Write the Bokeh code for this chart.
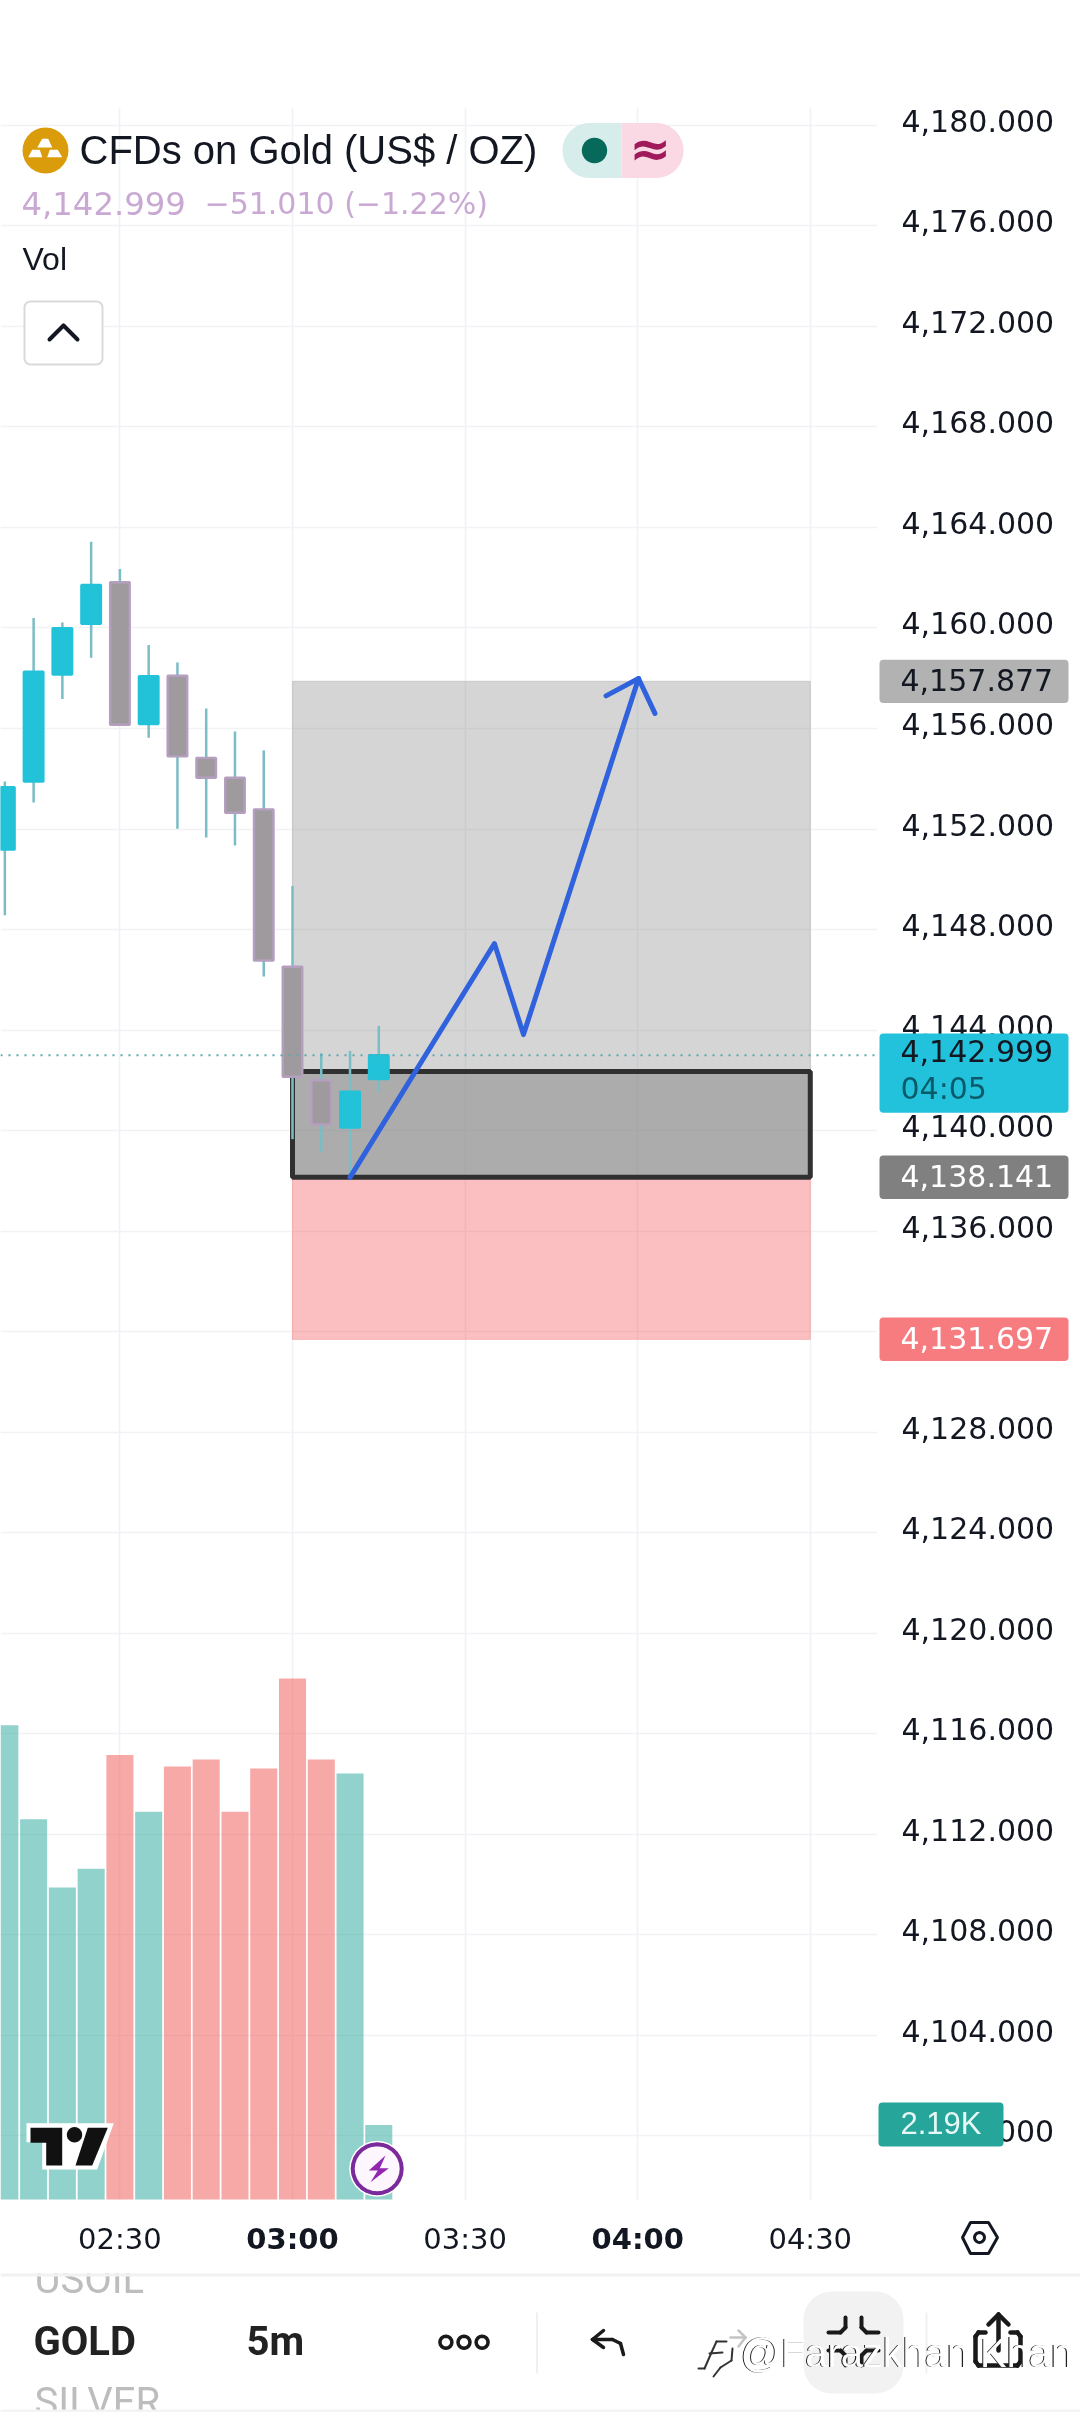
import numpy as np
from bokeh.plotting import figure
from bokeh.embed import file_html
from bokeh.resources import INLINE
from bokeh.models import (ColumnDataSource, Range1d, FixedTicker, NumeralTickFormatter,
                          Label, BoxAnnotation, PolyAnnotation, Arrow)

# ---- data ----
times  = [130, 135, 140, 145, 150, 155, 160, 165, 170, 175, 180, 185, 190, 195]
opens  = [4151.18, 4153.89, 4158.15, 4160.17, 4161.82, 4156.18, 4158.10, 4154.83, 4154.04, 4152.78, 4146.52, 4142.00, 4140.12, 4142.05]
closes = [4153.66, 4158.26, 4159.99, 4161.71, 4156.15, 4158.08, 4154.89, 4154.04, 4152.65, 4146.77, 4142.14, 4140.24, 4141.55, 4142.999]
highs  = [4153.89, 4160.40, 4160.22, 4163.43, 4162.35, 4159.32, 4158.63, 4156.80, 4155.88, 4155.13, 4149.73, 4143.08, 4143.17, 4144.16]
lows   = [4148.57, 4153.06, 4157.17, 4158.82, 4156.15, 4155.63, 4152.01, 4151.66, 4151.34, 4146.13, 4139.66, 4139.16, 4138.20, 4141.52]
volume_up = [True, True, True, True, False, True, False, False, False, False, False, False, True, True]
volumes = [13926, 11163, 9164, 9714, 13050, 11387, 12712, 12915, 11387, 12656, 15296, 12915, 12510, 2190]

price_ticks = list(range(4100, 4181, 4))
time_ticks = {150: "02:30", 210: "03:30", 270: "04:30"}
time_ticks_bold = {180: "03:00", 240: "04:00"}

last_price = 4142.999
target_price = 4157.877
entry_price = 4138.141
stop_price = 4131.697
box_top_price = 4142.35
box_start, box_end = 180, 270

path_t = [190.0, 215.1, 220.15, 240.15]
path_p = [4138.14, 4147.44, 4143.82, 4157.99]
head_t = [234.5, 240.15, 243.0]
head_p = [4157.3, 4157.99, 4156.6]

# ---- styling constants ----
W, H = 1080, 2412
F_L, F_R, F_T, F_B = 0, 877, 107, 2200
UP, DOWN, DOWN_EDGE, WICK = "#22C2D9", "#9E9A9E", "#B59FBF", "#7ABDC4"
NUM = "DejaVu Sans"
INK = "#131722"

x0 = 180 + (F_L - 292) / 5.753
x1 = 180 + (F_R - 292) / 5.753
y_top = 4156 + (728 - F_T) / 25.13
y_bot = 4156 - (F_B - 728) / 25.13


def sx(t):
    return F_L + (t - x0) / (x1 - x0) * (F_R - F_L)


def sy(v):
    return F_T + (y_top - v) / (y_top - y_bot) * (F_B - F_T)


p = figure(width=W, height=H, output_backend="svg", toolbar_location=None,
           x_range=Range1d(x0, x1), y_range=Range1d(y_bot, y_top),
           min_border_left=F_L, min_border_right=W - F_R, min_border_top=F_T, min_border_bottom=H - F_B,
           x_axis_location="below", y_axis_location="right",
           background_fill_color="white", border_fill_color="white", outline_line_color=None)
p.styles = {"position": "fixed", "left": "0px", "top": "0px"}

LABEL_SHIFT = 4.5 / 25.13
p.extra_y_ranges["ylabels"] = Range1d(y_bot - LABEL_SHIFT, y_top - LABEL_SHIFT)
p.extra_y_ranges["vol"] = Range1d(-29, 61420)

xa = p.xaxis[0]
xa.ticker = FixedTicker(ticks=list(time_ticks))
xa.major_label_overrides = time_ticks
xa.major_label_text_font = NUM
xa.major_label_text_font_size = "29px"
xa.major_label_text_color = INK
xa.major_label_standoff = 15
xa.major_tick_line_color = None
xa.minor_tick_line_color = None
xa.axis_line_color = None

ya = p.yaxis[0]
ya.y_range_name = "ylabels"
ya.ticker = FixedTicker(ticks=price_ticks)
ya.formatter = NumeralTickFormatter(format="0,0.000")
ya.major_label_overrides = {4132: ""}  # fully hidden behind the stop tag in the reference
ya.major_label_text_font = NUM
ya.major_label_text_font_size = "30px"
ya.major_label_text_color = INK
ya.major_label_standoff = 18
ya.major_tick_line_color = None
ya.minor_tick_line_color = None
ya.axis_line_color = None

p.xgrid[0].ticker = FixedTicker(ticks=sorted(list(time_ticks) + list(time_ticks_bold)))
p.ygrid[0].ticker = FixedTicker(ticks=price_ticks)
for g in (p.xgrid[0], p.ygrid[0]):
    g.grid_line_color = "#F1F2F5"
    g.grid_line_width = 1.7

src = ColumnDataSource(dict(
    t=times, o=opens, c=closes, h=highs, l=lows, v=volumes,
    top=[max(a, b) for a, b in zip(opens, closes)],
    bot=[min(a, b) for a, b in zip(opens, closes)],
    vc=["#26A69A" if u else "#EF5350" for u in volume_up],
    fc=[UP if u else DOWN for u in volume_up],
    lc=[UP if u else DOWN_EDGE for u in volume_up],
))
p.vbar(x="t", top="v", bottom=0, width=4.7, fill_color="vc", fill_alpha=0.5, line_color=None,
       y_range_name="vol", source=src)

# position tool
p.quad(left=[box_start], right=[box_end], top=[target_price], bottom=[box_top_price],
       fill_color="#808080", fill_alpha=0.33, line_color="#C8C8C8", line_width=1)
p.quad(left=[box_start], right=[box_end], top=[entry_price], bottom=[stop_price],
       fill_color="#F23C42", fill_alpha=0.33, line_color="#F5B0B2", line_width=1)
p.quad(left=[box_start], right=[box_end], top=[box_top_price], bottom=[entry_price],
       fill_color="#808080", fill_alpha=0.65, line_color="#303030", line_width=5)

# candles
p.segment(x0="t", x1="t", y0="l", y1="h", line_color=WICK, line_width=2.5, source=src)
p.vbar(x="t", top="top", bottom="bot", width=3.4, fill_color="fc", line_color="lc", line_width=2.4, source=src)

p.line([x0, x1], [last_price, last_price], line_color="#58A8B6", line_width=2, line_dash="2 6")

p.line(path_t, path_p, line_color="#2F62DC", line_width=5, line_join="round", line_cap="round")
p.line(head_t, head_p, line_color="#2F62DC", line_width=5, line_join="round", line_cap="round")

# ---- transparent full-page layer for the tags and app chrome around the chart ----
pc = figure(width=W, height=H, output_backend="svg", toolbar_location=None,
            x_range=Range1d(0, W), y_range=Range1d(H, 0), x_axis_type=None, y_axis_type=None,
            min_border=0, background_fill_color=None, border_fill_color=None, outline_line_color=None)
pc.grid.visible = False
pc.styles = {"position": "fixed", "left": "0px", "top": "0px"}


def lab(text, x, y, size, color, font="Liberation Sans", style="normal", align="left", base="middle"):
    pc.add_layout(Label(x=x, y=y, text=text, text_font=font,
                        text_font_size=f"{size}px", text_color=color, text_font_style=style,
                        text_align=align, text_baseline=base))


def box(l, r, t, b, color, radius=0, line=None, line_width=1):
    pc.add_layout(BoxAnnotation(left=l, right=r, top=t, bottom=b, fill_color=color, fill_alpha=1,
                                line_color=line, line_alpha=1 if line else 0, line_width=line_width,
                                border_radius=radius))


def poly(xs, ys, fill=None, line=None, lw=1):
    pc.add_layout(PolyAnnotation(xs=list(xs), ys=list(ys),
                                 fill_color=fill or "white", fill_alpha=1 if fill else 0,
                                 line_color=line or "white", line_alpha=1 if line else 0, line_width=lw))


def ring(cx, cy, r, fill=None, line=None, lw=1, n=28):
    a = np.linspace(0, 2 * np.pi, n, endpoint=False)
    poly((cx + r * np.cos(a)).tolist(), (cy + r * np.sin(a)).tolist(), fill, line, lw)


def strokes(pts, color=INK, lw=4):
    for (a, b), (c, d) in zip(pts[:-1], pts[1:]):
        pc.add_layout(Arrow(end=None, x_start=a, y_start=b, x_end=c, y_end=d,
                            line_color=color, line_width=lw, line_cap="round"))


# title block
ring(45, 150, 23, fill="#DB9C0C")
poly([41.7, 47.7, 51.7, 36.7], [138.3, 138.3, 147, 147], fill="white")
poly([31.7, 39.3, 41.7, 27.7], [149.3, 149.3, 156.7, 156.7], fill="white")
poly([49.3, 57.3, 61.7, 46.7], [149.3, 149.3, 156.7, 156.7], fill="white")
lab("CFDs on Gold (US$ / OZ)", 79, 149, 40, "#131722")
box(562, 621, 122.5, 177.5, "#D6EDEB", radius=(27, 0, 0, 27))
box(621, 683, 122.5, 177.5, "#FBD9E4", radius=(0, 27, 27, 0))
ring(594, 150, 12.7, fill="#06695A")
lab("≈", 650, 148, 50, "#A0195B", font="DejaVu Sans", style="bold", align="center")
lab("4,142.999", 21, 203, 32.3, "#C9A9D3", font=NUM)
lab("−51.010 (−1.22%)", 204, 203, 30, "#C9A9D3", font=NUM)
lab("Vol", 22, 258, 32, "#131722")
box(24, 102, 301, 364, "white", radius=6, line="#DADADA", line_width=2)
strokes([(49, 339), (63, 325), (77, 339)], color="#131722", lw=4)

# TradingView mark
poly([26, 113.3, 96.7, 41.7, 41.7, 26], [2122.7, 2122.7, 2169, 2169, 2141.7, 2141.7], fill="white")
poly([30, 61.7, 61.7, 45.7, 45.7, 30], [2127.3, 2127.3, 2165, 2165, 2142.3, 2142.3], fill="#111111")
ring(74, 2134.3, 7.7, fill="#111111")
poly([87.3, 107.3, 91.7, 75], [2127.3, 2127.3, 2165, 2165], fill="#111111")

# lightning badge
ring(376.7, 2168.3, 28, fill="white")
ring(376.7, 2168.3, 24.5, fill="#FDF6FF", line="#7B2A9B", lw=4)
poly([385, 368.3, 377.3, 370, 388.3, 379.3], [2155, 2170, 2170, 2181.7, 2167.7, 2167.7], fill="#9127B0")

# price tags
TL, TR, TX = 879, 1068, 900
for price, fill, ink in ((target_price, "#B2B2B2", INK), (entry_price, "#808080", "white"), (stop_price, "#F77C80", "white")):
    box(TL, TR, sy(price) - 21.7, sy(price) + 21.7, fill, radius=4)
    lab(f"{price:,.3f}", TX, sy(price) - 1, 30, ink, font=NUM)
box(TL, TR, sy(last_price) - 21.7, sy(last_price) + 57.5, "#22C2DC", radius=4)
lab(f"{last_price:,.3f}", TX, sy(last_price) - 4, 30, INK, font=NUM)
lab("04:05", TX, sy(last_price) + 33, 30, "#0B5A6A", font=NUM)
box(878, 1003, 2102, 2146, "#26A69A", radius=4)
lab("2.19K", 940.5, 2123, 31, "#E6F7F5", align="center")

# bold time labels
for t, s in time_ticks_bold.items():
    lab(s, sx(t), 2238, 29, INK, font=NUM, style="bold", align="center")

# settings hexagon
poly([970, 988, 997, 988, 970, 962], [2222, 2222, 2237, 2253, 2253, 2237], line=INK, lw=3)
ring(979, 2237, 5, line=INK, lw=3, n=16)

# bottom toolbar
lab("USOIL", 34, 2278.5, 40, "#BDBDBD", font="Roboto")
lab("SILVER", 34, 2401.5, 40, "#BDBDBD", font="Roboto")
box(0, W, 2255, 2273, "white")
box(0, W, 2273, 2276, "#F1F1F1")
box(0, W, 2409, 2412, "#F4F4F4")
lab("GOLD", 33, 2341, 40, "#222222", font="Roboto", style="bold")
lab("5m", 246, 2341, 40, "#222222", font="Roboto", style="bold")
for cx in (445.4, 463.5, 481.6):
    ring(cx, 2341.7, 6, line="#1A1A1A", lw=3.5, n=16)
box(535.5, 537.5, 2312, 2373, "#F0F0F0")
strokes([(603, 2330), (592, 2339), (603, 2347)], color="#1A1A1A", lw=3.5)
strokes([(592, 2339), (612, 2339), (620, 2343), (623, 2354)], color="#1A1A1A", lw=3.5)
box(803, 903, 2291, 2393, "#F2F2F2", radius=28)
strokes([(845, 2317), (845, 2327), (840, 2332), (828, 2332)], color="#1A1A1A", lw=4)
strokes([(861, 2317), (861, 2327), (866, 2332), (878, 2332)], color="#1A1A1A", lw=4)
strokes([(828, 2350), (840, 2350), (845, 2355), (845, 2365)], color="#1A1A1A", lw=4)
strokes([(878, 2350), (866, 2350), (861, 2355), (861, 2365)], color="#1A1A1A", lw=4)
box(925, 927, 2312, 2373, "#F0F0F0")
strokes([(998, 2315), (998, 2350)], color="#1A1A1A", lw=4.5)
strokes([(988, 2324), (998, 2314), (1008, 2324)], color="#1A1A1A", lw=4.5)
strokes([(985, 2332), (978, 2332), (975, 2336), (975, 2361), (978, 2365), (1017, 2365), (1020, 2361),
         (1020, 2336), (1017, 2332), (1010, 2332)], color="#1A1A1A", lw=4.5)

# watermark
strokes([(730, 2337), (745, 2337)], color="#C4C4C4", lw=2.5)
strokes([(738, 2330), (745, 2337), (738, 2346)], color="#C4C4C4", lw=2.5)
strokes([(726, 2341), (716, 2341), (711, 2352), (704, 2368), (698, 2368)], color="#333333", lw=2)
strokes([(709, 2353), (722, 2352)], color="#333333", lw=2)
strokes([(732, 2348), (731, 2360), (720, 2367), (713, 2376)], color="#333333", lw=2)
lab("@Farazkhan Khan", 739, 2352, 39.8, "#222222")
lab("@Farazkhan Khan", 740.1, 2352, 39.8, "white")

open("out.html", "w").write(file_html([p, pc], INLINE))
